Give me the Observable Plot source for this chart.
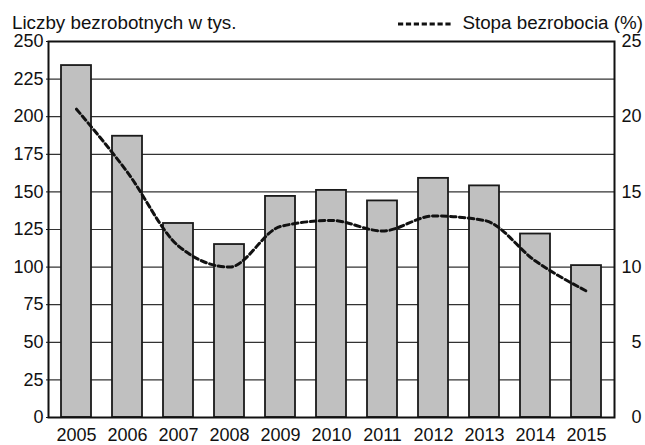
<!DOCTYPE html>
<html>
<head>
<meta charset="utf-8">
<script src="https://cdn.jsdelivr.net/npm/d3@7"></script>
<script src="https://cdn.jsdelivr.net/npm/@observablehq/plot@0.6"></script>
<style>
  html, body { margin: 0; padding: 0; background: #fff; }
  #wrap { position: relative; width: 645px; height: 445px; font-family: "Liberation Sans", Arial, sans-serif; }
  #wrap svg.plot { position: absolute; left: 0; top: 0; }
  .lbl { position: absolute; font-size: 18.8px; color: #111; white-space: nowrap; line-height: 1; }
</style>
</head>
<body>
<div id="wrap">
  <div class="lbl" id="title" style="left:12px; top:14px;"></div>
  <div class="lbl" id="legend" style="right:2px; top:14px; display:flex; align-items:center;">
    <svg width="54" height="18" style="margin-right:10px;"><line x1="0" y1="10" x2="54" y2="10" stroke="#111" stroke-width="3" stroke-dasharray="5.2,2.7"/></svg>
    <span id="legendText"></span>
  </div>
</div>
<script>
const titleText = "Liczby bezrobotnych w tys.";
const legendLabel = "Stopa bezrobocia (%)";
const years = ["2005","2006","2007","2008","2009","2010","2011","2012","2013","2014","2015"];
const unemployed = [234, 187, 129, 115, 147, 151, 144, 159, 154, 122, 101];
const rate = [20.5, 16.3, 11.4, 10.0, 12.7, 13.1, 12.4, 13.4, 13.1, 10.4, 8.4];
const leftTicks = [0, 25, 50, 75, 100, 125, 150, 175, 200, 225, 250];
const rightTicks = [0, 5, 10, 15, 20, 25];

document.getElementById("title").textContent = titleText;
document.getElementById("legendText").textContent = legendLabel;

const data = years.map((y, i) => ({year: y, count: unemployed[i], rate: rate[i]}));

const chart = Plot.plot({
  width: 645,
  height: 445,
  marginTop: 41,
  marginBottom: 28,
  marginLeft: 48,
  marginRight: 31,
  style: {fontFamily: "'Liberation Sans', Arial, sans-serif", fontSize: "18px", color: "#111", background: "white"},
  x: {domain: years, paddingInner: 0.42, paddingOuter: 0.21, label: null},
  y: {domain: [0, 250], label: null},
  marks: [
    Plot.ruleY(leftTicks.slice(1, -1), {stroke: "#333", strokeWidth: 1.2}),
    Plot.barY(data, {x: "year", y: "count", fill: "#c0c0c0", stroke: "#1a1a1a", strokeWidth: 1.8}),
    Plot.line(data, {x: "year", y: d => d.rate * 10, curve: "monotone-x", stroke: "#111", strokeWidth: 3, strokeDasharray: "5.5,3.5"}),
    Plot.axisY(leftTicks, {anchor: "left", tickSize: 2, tickPadding: 3, label: null, fontSize: 18}),
    Plot.axisY(rightTicks.map(t => t * 10), {anchor: "right", tickSize: 0, tickPadding: 27, textAnchor: "end", tickFormat: d => String(d / 10), label: null, fontSize: 18}),
    Plot.axisX(years, {anchor: "bottom", tickSize: 0, tickPadding: 11, label: null, fontSize: 18}),
    Plot.frame({stroke: "#111", strokeWidth: 2})
  ]
});
chart.classList.add("plot");
document.getElementById("wrap").prepend(chart);
</script>
</body>
</html>
